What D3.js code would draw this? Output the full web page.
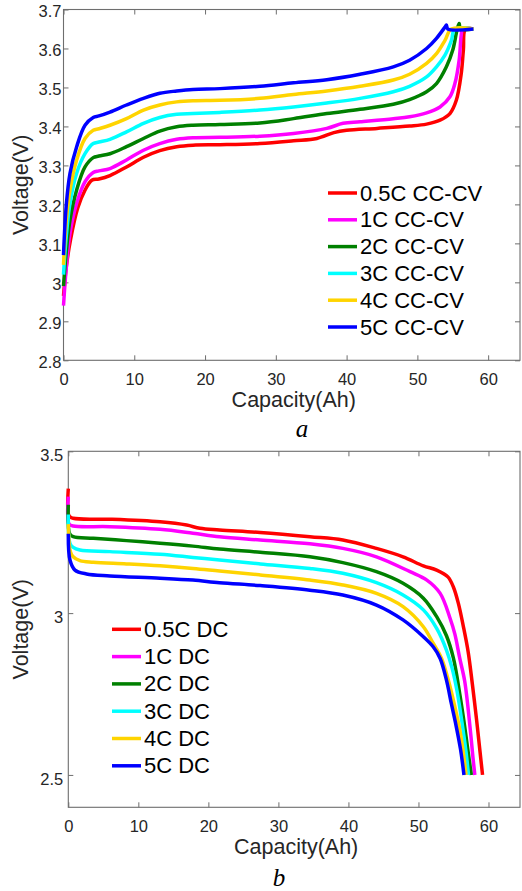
<!DOCTYPE html>
<html>
<head>
<meta charset="utf-8">
<script src="https://cdn.jsdelivr.net/npm/d3@7"></script>
<style>
  html, body { margin: 0; padding: 0; background: #fff; }
  svg { display: block; }
  text { font-family: "Liberation Sans", Arial, sans-serif; }
</style>
</head>
<body>
<div id="chart"></div>
<script>
// Battery charge / discharge curves, two stacked panels
var seriesColors = ['#ff0000', '#ff00ff', '#008000', '#00ffff', '#ffd400', '#0000ff'];
var chargeNames = ['0.5C CC-CV', '1C CC-CV', '2C CC-CV', '3C CC-CV', '4C CC-CV', '5C CC-CV'];
var dischargeNames = ['0.5C DC', '1C DC', '2C DC', '3C DC', '4C DC', '5C DC'];

var xTicks = [0, 10, 20, 30, 40, 50, 60];
var yTicksCharge = [2.8, 2.9, 3.0, 3.1, 3.2, 3.3, 3.4, 3.5, 3.6, 3.7];
var yTicksDischarge = [2.5, 3.0, 3.5];

// [capacity Ah, voltage V]
var charge05C = [[0,2.965],[0.4,3.04],[1,3.11],[2,3.19],[3,3.235],[4,3.262],[5,3.265],[6.57,3.274],[8.9,3.296],[11.3,3.321],[13.6,3.338],[16,3.348],[18.3,3.352],[22.1,3.353],[27.75,3.356],[32.5,3.363],[35.8,3.369],[38.2,3.384],[40,3.39],[44.3,3.395],[48.9,3.401],[51.3,3.406],[53.2,3.416],[54.6,3.433],[55.5,3.467],[56.2,3.536],[56.5,3.596],[56.8,3.65],[57.9,3.65]];
var charge1C = [[0,2.94],[0.4,3.04],[0.92,3.126],[1.86,3.203],[3.04,3.258],[4.2,3.282],[5,3.286],[6.57,3.292],[8.9,3.314],[11.3,3.339],[13.6,3.356],[16,3.367],[18.3,3.371],[22.1,3.372],[27.75,3.375],[32.5,3.382],[37.2,3.395],[39.5,3.408],[41.9,3.412],[46.6,3.42],[48.9,3.425],[51.3,3.435],[53.2,3.45],[54.6,3.476],[55.3,3.51],[55.9,3.57],[56.2,3.635],[56.4,3.65],[57.9,3.65]];
var charge2C = [[0,2.99],[0.4,3.08],[0.92,3.16],[1.86,3.237],[3.04,3.296],[4.2,3.32],[5,3.324],[6.57,3.33],[8.9,3.348],[11.3,3.369],[13.6,3.388],[16,3.399],[18.3,3.403],[22.1,3.405],[27.75,3.409],[32.5,3.42],[37.2,3.433],[41.9,3.444],[46.6,3.457],[48.9,3.469],[51.3,3.489],[52.7,3.51],[54.1,3.553],[55,3.596],[55.6,3.647],[55.9,3.664],[56.1,3.65],[57.9,3.65]];
var charge3C = [[0,3.02],[0.4,3.12],[0.92,3.203],[1.86,3.28],[3.04,3.33],[4.2,3.356],[5,3.36],[6.57,3.367],[8.9,3.386],[11.3,3.408],[13.6,3.423],[16,3.431],[18.3,3.433],[22.1,3.436],[27.75,3.442],[32.5,3.45],[37.2,3.46],[41.9,3.472],[46.6,3.489],[48.9,3.503],[51.3,3.527],[52.7,3.553],[53.9,3.583],[54.8,3.62],[55.3,3.65],[57.9,3.65]];
var charge4C = [[0,3.045],[0.4,3.16],[0.92,3.237],[1.86,3.314],[3.04,3.369],[4.2,3.39],[5,3.394],[6.57,3.403],[8.9,3.42],[11.3,3.442],[13.6,3.455],[16,3.463],[18.3,3.466],[22.1,3.467],[27.75,3.472],[32.5,3.482],[37.2,3.491],[41.9,3.503],[46.6,3.519],[48.9,3.534],[51.3,3.562],[52.7,3.587],[53.9,3.621],[54.8,3.65],[57.9,3.65]];
var charge5C = [[0,3.07],[0.4,3.2],[0.92,3.28],[1.86,3.348],[3.04,3.403],[4.2,3.423],[5,3.427],[6.57,3.437],[8.9,3.455],[11.3,3.472],[13.6,3.485],[16,3.491],[18.3,3.495],[22.1,3.497],[27.75,3.503],[32.5,3.512],[37.2,3.52],[41.9,3.534],[46.6,3.553],[48.9,3.57],[51.3,3.6],[52.7,3.626],[53.9,3.655],[54.1,3.66],[54.3,3.65],[57.9,3.65]];

var discharge05C = [[0,3.385],[0.12,3.30],[0.7,3.293],[5.95,3.29],[13.1,3.282],[16.9,3.272],[18.8,3.262],[21.6,3.257],[27.4,3.249],[34.5,3.236],[39.2,3.226],[44,3.2],[47.8,3.174],[50.7,3.146],[52.6,3.133],[54.2,3.112],[55.0,3.08],[55.7,3.03],[56.4,2.96],[57.1,2.88],[57.7,2.78],[58.3,2.67],[58.8,2.57],[59.15,2.5]];
var discharge1C = [[0,3.36],[0.12,3.275],[0.7,3.269],[5.95,3.267],[13.1,3.259],[17.8,3.247],[21.6,3.236],[27.4,3.226],[34.5,3.214],[39.2,3.2],[44,3.174],[48.8,3.128],[51.2,3.102],[53.1,3.061],[54.5,2.985],[55.2,2.935],[55.9,2.86],[56.6,2.79],[57.4,2.64],[57.8,2.55],[58.05,2.5]];
var discharge2C = [[0,3.335],[0.2,3.245],[0.7,3.236],[3.57,3.231],[8.3,3.224],[13.1,3.216],[17.8,3.207],[21.6,3.198],[27.4,3.188],[34.5,3.174],[39.2,3.156],[44,3.128],[47.8,3.092],[50.7,3.046],[52.6,2.989],[54.0,2.93],[55.0,2.86],[55.9,2.75],[56.6,2.65],[57.1,2.57],[57.55,2.5]];
var discharge3C = [[0,3.305],[0.25,3.215],[0.7,3.203],[1.66,3.195],[5.95,3.19],[13.1,3.182],[17.8,3.172],[21.6,3.164],[27.4,3.152],[34.5,3.138],[39.2,3.123],[44,3.094],[47.8,3.056],[50.7,3.01],[52.6,2.953],[54.0,2.886],[54.8,2.83],[55.5,2.76],[56.3,2.65],[56.8,2.57],[57.15,2.5]];
var discharge4C = [[0,3.275],[0.3,3.19],[0.7,3.174],[1.66,3.162],[3.57,3.157],[8.3,3.152],[13.1,3.146],[17.8,3.138],[21.6,3.13],[27.4,3.118],[34.5,3.102],[39.2,3.087],[44,3.061],[47.8,3.02],[50.7,2.958],[52.1,2.907],[53.3,2.86],[54.3,2.79],[55.1,2.72],[55.9,2.64],[56.4,2.57],[56.8,2.5]];
var discharge5C = [[0,3.245],[0.24,3.164],[0.95,3.133],[2.6,3.121],[5.95,3.115],[13.1,3.108],[17.8,3.102],[21.6,3.094],[27.4,3.085],[34.5,3.071],[39.2,3.056],[44,3.025],[47.8,2.979],[50.7,2.927],[52.1,2.896],[53.1,2.86],[54.0,2.793],[54.7,2.72],[55.3,2.66],[56.0,2.58],[56.5,2.5]];

var W = 522, H = 891;
var textColor = '#262626';
var axisColor = '#6e6e6e';
var sans = '"Liberation Sans", Arial, sans-serif';

var svg = d3.select('#chart').append('svg')
  .attr('width', W).attr('height', H)
  .attr('viewBox', '0 0 ' + W + ' ' + H);

function fmt(d) { return String(+d.toFixed(1)); }

function drawPanel(p) {
  var x = d3.scaleLinear().domain([0, 64.5]).range([p.left, p.right]);
  var y = d3.scaleLinear().domain(p.yDomain).range([p.bottom, p.top]);
  var g = svg.append('g');

  // box
  g.append('rect')
    .attr('x', p.left).attr('y', p.top)
    .attr('width', p.right - p.left).attr('height', p.bottom - p.top)
    .style('fill', 'none').style('stroke', axisColor).style('stroke-width', 1.1);

  // axes, ticks pointing inward
  var bottomAx = g.append('g').attr('transform', 'translate(0,' + p.bottom + ')')
    .call(d3.axisBottom(x).tickValues(xTicks).tickFormat(fmt).tickSize(-5).tickSizeOuter(0).tickPadding(12.5));
  var leftAx = g.append('g').attr('transform', 'translate(' + p.left + ',0)')
    .call(d3.axisLeft(y).tickValues(p.yTicks).tickFormat(fmt).tickSize(-5).tickSizeOuter(0).tickPadding(p.yPad));
  var topAx = g.append('g').attr('transform', 'translate(0,' + p.top + ')')
    .call(d3.axisTop(x).tickValues(xTicks).tickFormat('').tickSize(-5).tickSizeOuter(0));
  var rightAx = g.append('g').attr('transform', 'translate(' + p.right + ',0)')
    .call(d3.axisRight(y).tickValues(p.yTicks).tickFormat('').tickSize(-5).tickSizeOuter(0));

  [bottomAx, leftAx, topAx, rightAx].forEach(function(a) {
    a.select('.domain').remove();
    a.selectAll('line').style('stroke', axisColor);
    a.selectAll('text')
      .style('font-size', '16.5px')
      .style('font-family', sans)
      .style('fill', textColor);
  });
  leftAx.selectAll('text').attr('dy', p.yDy);

  // curves
  var line = d3.line()
    .x(function(d) { return x(d[0]); })
    .y(function(d) { return y(d[1]); })
    .curve(d3.curveCatmullRom.alpha(0.5));

  p.series.forEach(function(s, i) {
    g.append('path')
      .datum(s)
      .attr('d', line)
      .style('fill', 'none')
      .style('stroke', seriesColors[i])
      .style('stroke-width', 3.5)
      .style('stroke-linejoin', 'round');
  });

  // axis labels
  g.append('text')
    .attr('x', (p.left + p.right) / 2 + 2)
    .attr('y', p.xLabelY)
    .attr('text-anchor', 'middle')
    .style('font-size', '21.5px')
    .style('fill', textColor)
    .text('Capacity(Ah)');

  g.append('text')
    .attr('transform', 'translate(28,' + ((p.top + p.bottom) / 2) + ') rotate(-90)')
    .attr('text-anchor', 'middle')
    .style('font-size', '21.5px')
    .style('fill', textColor)
    .text('Voltage(V)');

  // legend
  var leg = g.append('g');
  p.names.forEach(function(name, i) {
    var cy = p.legY + i * p.legStep;
    leg.append('line')
      .attr('x1', p.legX).attr('x2', p.legX + 29)
      .attr('y1', cy).attr('y2', cy)
      .style('stroke', seriesColors[i])
      .style('stroke-width', 3.5);
    leg.append('text')
      .attr('x', p.legX + 32)
      .attr('y', cy + 7.5)
      .style('font-size', '22px')
      .style('fill', '#000')
      .text(name);
  });

  // panel letter
  g.append('text')
    .attr('x', p.letterX)
    .attr('y', p.letterY)
    .attr('text-anchor', 'middle')
    .style('font-family', '"Liberation Serif", "Times New Roman", serif')
    .style('font-style', 'italic')
    .style('font-size', '25px')
    .style('fill', '#000')
    .text(p.letter);
}

drawPanel({
  left: 63.5, right: 520, top: 9.5, bottom: 360.3,
  yDomain: [2.8, 3.7], yTicks: yTicksCharge, yPad: 2, yDy: '0.45em',
  series: [charge05C, charge1C, charge2C, charge3C, charge4C, charge5C],
  names: chargeNames, legX: 328, legY: 193, legStep: 26.8,
  xLabelY: 407, letter: 'a', letterX: 302, letterY: 437
});

drawPanel({
  left: 68.3, right: 520, top: 451.3, bottom: 807.3,
  yDomain: [2.4, 3.5], yTicks: yTicksDischarge, yPad: 5, yDy: '0.56em',
  series: [discharge05C, discharge1C, discharge2C, discharge3C, discharge4C, discharge5C],
  names: dischargeNames, legX: 112, legY: 629.3, legStep: 27.3,
  xLabelY: 854, letter: 'b', letterX: 279, letterY: 886
});
</script>
</body>
</html>
